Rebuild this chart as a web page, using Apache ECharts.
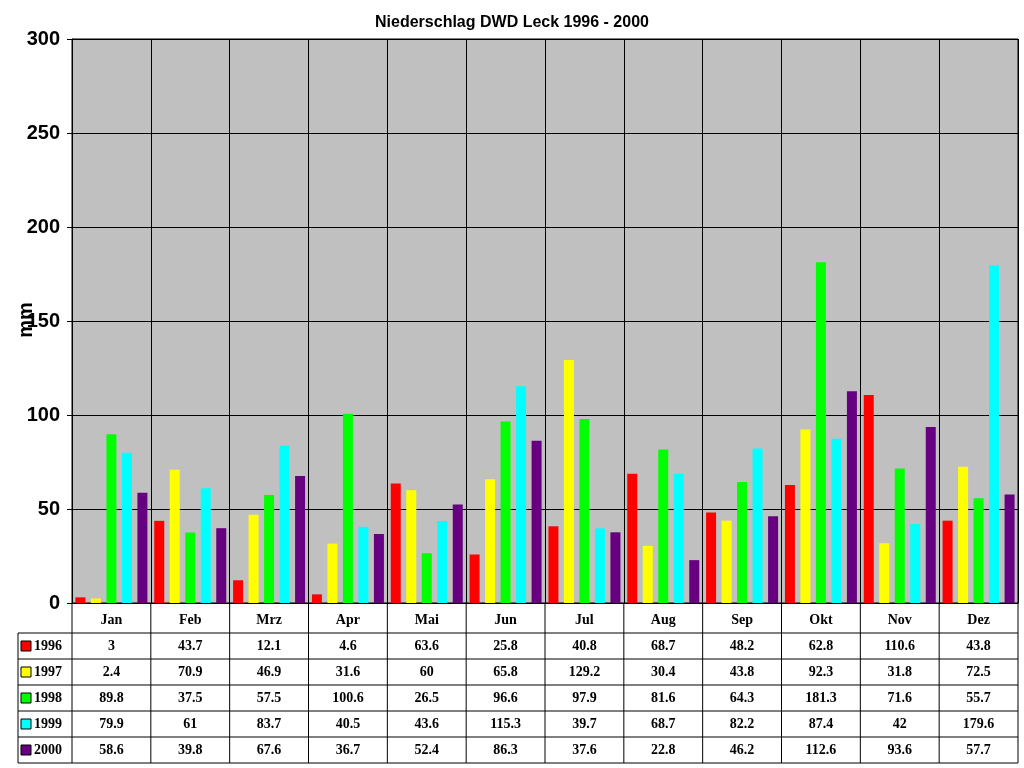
<!DOCTYPE html>
<html><head><meta charset="utf-8">
<script src="https://cdn.jsdelivr.net/npm/echarts@6/dist/echarts.min.js"></script>
<style>html,body{margin:0;padding:0;background:#fff}#c{width:1024px;height:768px}</style>
</head><body><div id="c"></div>
<script>
const months = ['Jan','Feb','Mrz','Apr','Mai','Jun','Jul','Aug','Sep','Okt','Nov','Dez'];
const years = ['1996','1997','1998','1999','2000'];
const colors = ['#ff0000','#ffff00','#00ff00','#00ffff','#660080'];
const v1996 = [3,43.7,12.1,4.6,63.6,25.8,40.8,68.7,48.2,62.8,110.6,43.8];
const v1997 = [2.4,70.9,46.9,31.6,60,65.8,129.2,30.4,43.8,92.3,31.8,72.5];
const v1998 = [89.8,37.5,57.5,100.6,26.5,96.6,97.9,81.6,64.3,181.3,71.6,55.7];
const v1999 = [79.9,61,83.7,40.5,43.6,115.3,39.7,68.7,82.2,87.4,42,179.6];
const v2000 = [58.6,39.8,67.6,36.7,52.4,86.3,37.6,22.8,46.2,112.6,93.6,57.7];
const yTicks = [0,50,100,150,200,250,300];
const values = [v1996,v1997,v1998,v1999,v2000];

const L=72,R=1018,T=39,B=603,X0=18;
const cw=(R-L)/12;
const rows=[633,659,685,711,737,763];
const g=[];
const ls={stroke:'#000',lineWidth:1};
// table lines
g.push({type:'line',shape:{x1:X0,y1:rows[0],x2:R,y2:rows[0]},style:ls});
for(let r=1;r<rows.length;r++) g.push({type:'line',shape:{x1:X0,y1:rows[r],x2:R,y2:rows[r]},style:ls});
g.push({type:'line',shape:{x1:X0,y1:rows[0],x2:X0,y2:rows[5]},style:ls});
for(let k=0;k<=12;k++){const x=L+k*cw;g.push({type:'line',shape:{x1:x,y1:B,x2:x,y2:rows[5]},style:ls});}
years.forEach((y,i)=>{
  const cy=(rows[i]+rows[i+1])/2;
  g.push({type:'rect',shape:{x:21,y:cy-5,width:10,height:10},style:{fill:colors[i],stroke:'#000',lineWidth:1}});
  g.push({type:'text',x:34,y:cy,style:{text:y,font:'bold 14px "Liberation Serif"',fill:'#000',verticalAlign:'middle'}});
  values[i].forEach((v,k)=>{
    g.push({type:'text',x:L+(k+0.5)*cw,y:cy,style:{text:String(v),font:'bold 14px "Liberation Serif"',fill:'#000',align:'center',verticalAlign:'middle'}});
  });
});
g.push({type:'text',x:26,y:320,rotation:Math.PI/2,style:{text:'mm',font:'bold 20px "Liberation Sans"',fill:'#000',align:'center',verticalAlign:'middle'}});

const chart=echarts.init(document.getElementById('c'));
chart.setOption({
  animation:false,
  title:{text:'Niederschlag DWD Leck 1996 - 2000',left:'center',top:10,textStyle:{fontFamily:'Liberation Sans',fontWeight:'bold',fontSize:16,color:'#000'}},
  grid:{left:L,right:1024-R,top:T,bottom:768-B,show:true,backgroundColor:'#c0c0c0',borderColor:'#000',borderWidth:1},
  xAxis:{type:'category',data:months,axisLine:{lineStyle:{color:'#000'}},axisTick:{show:false},
    splitLine:{show:true,lineStyle:{color:'#000',width:1}},
    axisLabel:{interval:0,margin:10,fontFamily:'Liberation Serif',fontWeight:'bold',fontSize:14,color:'#000'}},
  yAxis:{type:'value',min:yTicks[0],max:yTicks[yTicks.length-1],interval:50,
    axisLine:{show:true,lineStyle:{color:'#000'}},axisTick:{show:true,lineStyle:{color:'#000'}},
    splitLine:{lineStyle:{color:'#000',width:1}},
    axisLabel:{fontFamily:'Liberation Sans',fontWeight:'bold',fontSize:20,color:'#000',margin:12}},
  series:years.map((y,i)=>({name:y,type:'bar',data:values[i],barWidth:10,barGap:'55%',itemStyle:{color:colors[i]}})),
  graphic:g
});
</script></body></html>
